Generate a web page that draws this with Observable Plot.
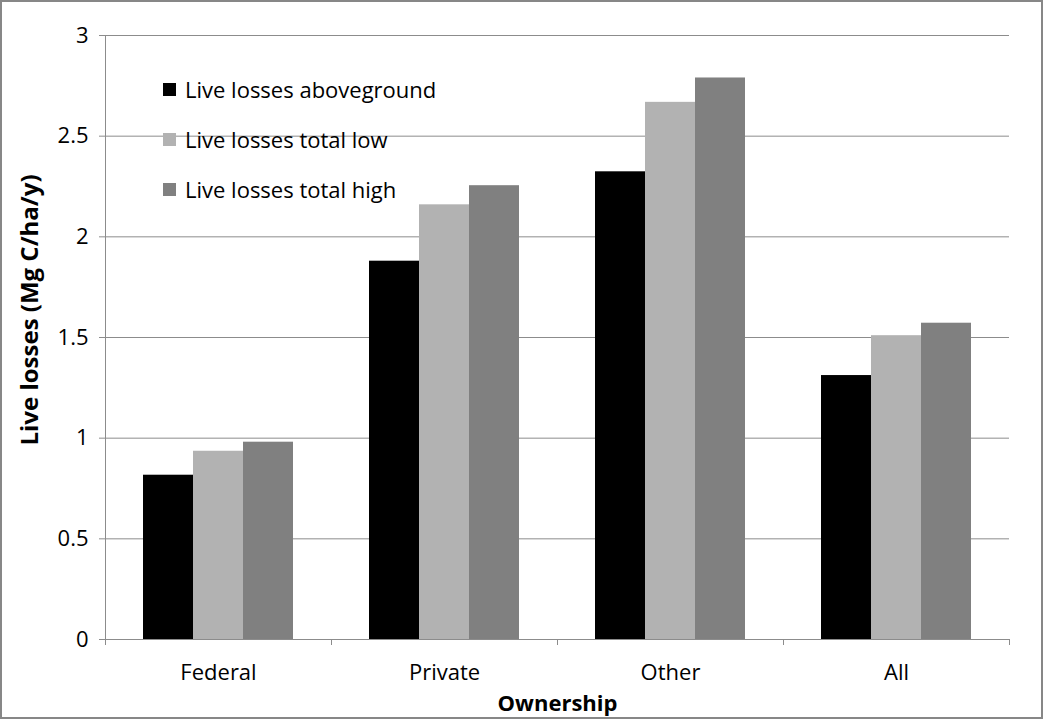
<!DOCTYPE html>
<html><head><meta charset="utf-8">
<script src="https://cdn.jsdelivr.net/npm/d3@7"></script>
<script src="https://cdn.jsdelivr.net/npm/@observablehq/plot@0.6"></script>
<style>
body{margin:0;background:#fff;}
#wrap{position:relative;width:1043px;height:719px;box-sizing:border-box;border:2px solid #878787;overflow:hidden;font-family:"Open Sans",sans-serif;background:#fff;}
#chart svg{display:block;}
#legend{position:absolute;left:161px;top:62px;}
.row{display:flex;align-items:center;height:50px;font-size:22px;color:#000;}
.sw{width:13px;height:13px;margin-right:9px;}
[aria-label="fx-axis label"] text,[aria-label="fx-axis label"]{font-weight:bold;}
</style></head><body><div id="wrap"><div id="chart"></div><div id="legend"></div></div>
<script>
const categories = ["Federal", "Private", "Other", "All"];
const seriesNames = ["Live losses aboveground", "Live losses total low", "Live losses total high"];
const aboveground = [0.816, 1.879, 2.323, 1.311];
const totalLow = [0.935, 2.159, 2.668, 1.509];
const totalHigh = [0.980, 2.254, 2.789, 1.571];
const colors = ["#000000", "#b2b2b2", "#808080"];
const yTicks = [0, 0.5, 1, 1.5, 2, 2.5, 3];
const xLabel = "Ownership";
const yLabel = "Live losses (Mg C/ha/y)";

const seriesValues = [aboveground, totalLow, totalHigh];
const data = categories.flatMap((c, i) => seriesValues.map((arr, j) => ({category: c, series: seriesNames[j], value: arr[i]})));

const gridColor = "#8c8c8c";
const chart = Plot.plot({
  width: 1039, height: 715,
  marginLeft: 103, marginRight: 32, marginTop: 33, marginBottom: 78,
  style: {fontFamily: "Open Sans", fontSize: "22px", color: "#000", background: "transparent", overflow: "visible"},
  fx: {domain: categories, padding: 0, axis: null},
  x: {domain: seriesNames, paddingInner: 0, paddingOuter: 0.73, axis: null},
  y: {domain: [0, 3]},
  color: {domain: seriesNames, range: colors},
  marks: [
    Plot.gridY(yTicks.slice(1), {stroke: gridColor, strokeOpacity: 1}),
    Plot.barY(data, {fx: "category", x: "series", y: "value", fill: "series"}),
    Plot.ruleY([0], {stroke: gridColor}),
    Plot.axisY(yTicks, {tickSize: 6, tickPadding: 11, label: null, stroke: gridColor, tickFormat: d => String(d)}),
    Plot.axisFx({anchor: "bottom", tickSize: 0, tickPadding: 25, label: xLabel, labelAnchor: "center", labelOffset: 71, labelArrow: "none"})
  ]
});
document.getElementById("chart").appendChild(chart);

const svg = d3.select(chart);
const fx = chart.scale("fx");
const y = chart.scale("y");
const y0 = y.apply(0), y3 = y.apply(3);
const left = fx.apply(categories[0]);
const edges = categories.map(c => fx.apply(c)).concat([fx.apply(categories[categories.length - 1]) + fx.bandwidth]);
const g = svg.append("g").attr("stroke", gridColor).attr("shape-rendering", "crispEdges");
g.append("line").attr("x1", left).attr("x2", left).attr("y1", y3).attr("y2", y0);
edges.forEach(e => g.append("line").attr("x1", e).attr("x2", e).attr("y1", y0).attr("y2", y0 + 6));
svg.append("text").text(yLabel)
  .attr("transform", `translate(30,${(y0 + y3) / 2 - 27}) rotate(-90)`)
  .attr("text-anchor", "middle").attr("dominant-baseline", "middle")
  .attr("font-weight", "bold").attr("font-size", 24).attr("fill", "#000");

const legend = d3.select("#legend");
seriesNames.forEach((s, i) => {
  const r = legend.append("div").attr("class", "row");
  r.append("div").attr("class", "sw").style("background", colors[i]);
  r.append("span").text(s);
});
</script></body></html>
